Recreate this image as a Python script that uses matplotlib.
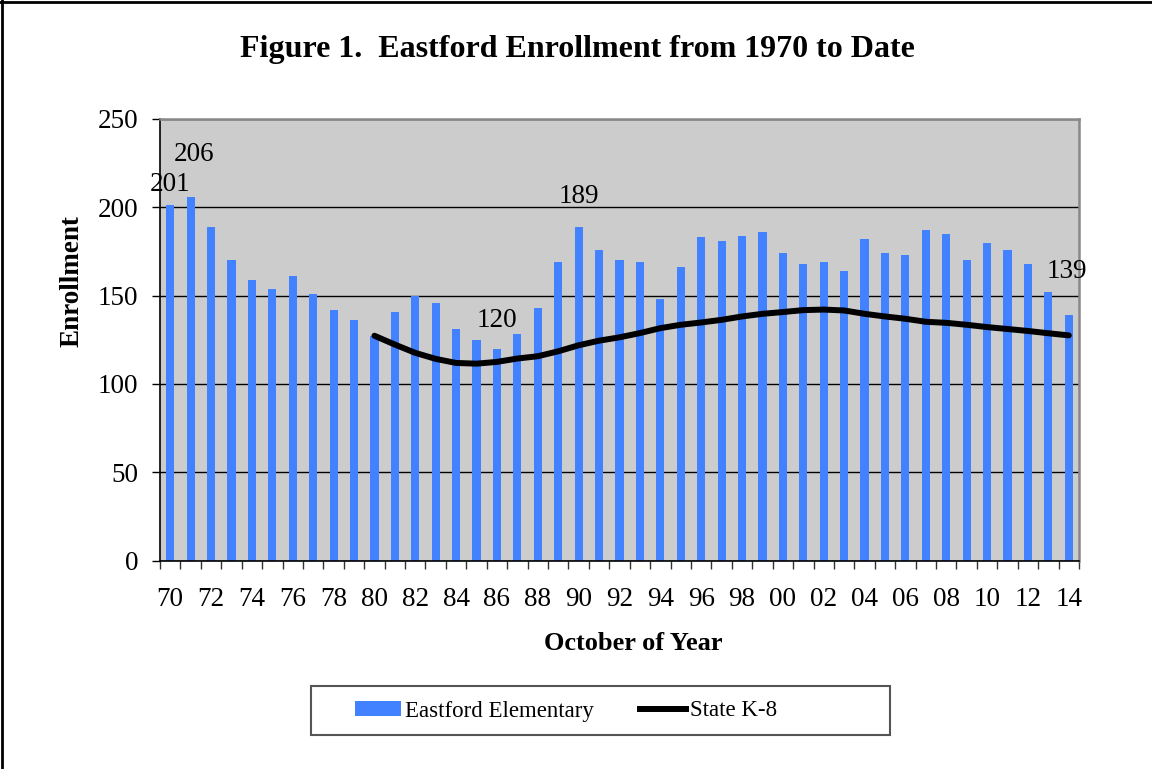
import numpy as np
import matplotlib.pyplot as plt
from matplotlib.patches import Rectangle, Patch
from matplotlib.lines import Line2D

plt.rcParams["font.family"] = ["Liberation Serif", "DejaVu Serif"]

# October enrollment, 1970..2014
years = np.arange(1970, 2015)
eastford = [201, 206, 189, 170, 159, 154, 161, 151, 142, 136,
            127, 141, 150, 146, 131, 125, 120, 128, 143, 169,
            189, 176, 170, 169, 148, 166, 183, 181, 184, 186,
            174, 168, 169, 164, 182, 174, 173, 187, 185, 170,
            180, 176, 168, 152, 139]

# state K-8 trend (scaled), 1980..2014
state_years = np.arange(1980, 2015)
state_k8 = [127.3, 122.3, 117.6, 114.2, 111.9, 111.5, 112.5, 114.4, 115.7, 118.5,
            121.9, 124.5, 126.4, 128.8, 131.6, 133.5, 134.8, 136.3, 138.2, 139.7,
            140.7, 141.8, 142.1, 141.6, 139.7, 138.2, 136.9, 135.2, 134.6, 133.5,
            132.2, 131.1, 130.0, 128.7, 127.5]

labelled_years = [1970, 1971, 1986, 1990, 2014]
label_lift = [21, 42, 28, 30, 44]   # pixels above bar top
label_shift = [0, 3, 0, 0, -2]

blue = "#4281FF"

fig = plt.figure(figsize=(11.52, 7.69), dpi=100)
ax = fig.add_axes([160 / 1152, 1 - 560.7 / 769, 919 / 1152, 441.8 / 769])
ax.set_facecolor("#CCCCCC")

x = np.arange(len(years))
ax.bar(x, eastford, width=0.4, color=blue, zorder=2)
ax.plot(state_years - years[0], state_k8, color="black", lw=4.3,
        solid_capstyle="round", zorder=3)

px = 72 / 100
for yr, lift, sh in zip(labelled_years, label_lift, label_shift):
    i = int(yr - years[0])
    ax.annotate(str(eastford[i]), (x[i], eastford[i]),
                xytext=(sh * px, lift * px), textcoords="offset points",
                ha="center", va="center", fontsize=19.5, zorder=4)

ax.set_xlim(-0.5, len(years) - 0.5)
ax.set_ylim(0, 250)
ax.set_yticks(np.arange(0, 251, 50))
ax.yaxis.grid(True, color="black", lw=1, zorder=1)
ax.set_axisbelow(True)

ax.set_xticks(x[::2])
ax.set_xticklabels([f"{y % 100:02d}" for y in years[::2]])
ax.set_xticks(np.arange(-0.5, len(years)), minor=True)
ax.tick_params(axis="x", which="major", length=0, pad=19, labelsize=19.5)
ax.tick_params(axis="x", which="minor", length=5.5, width=1, direction="out", color="#333333")
ax.tick_params(axis="y", length=5.5, width=1, direction="out", pad=10, labelsize=19.5)

for s in ["top", "right"]:
    ax.spines[s].set_color("#888888")
    ax.spines[s].set_linewidth(1.8)
for s in ["left", "bottom"]:
    ax.spines[s].set_color("black")
    ax.spines[s].set_linewidth(1.2)

fig.text(577 / 1152, 1 - 49 / 769, "Figure 1.  Eastford Enrollment from 1970 to Date",
         ha="center", va="center", fontsize=23, fontweight="bold")
fig.text(633 / 1152, 1 - 644 / 769, "October of Year",
         ha="center", va="center", fontsize=19, fontweight="bold")
fig.text(72 / 1152, 1 - 281 / 769, "Enrollment", rotation=90,
         ha="center", va="center", fontsize=19.5, fontweight="bold")

# legend frame
fig.add_artist(Rectangle((311 / 1152, 1 - 735 / 769), 579 / 1152, 49 / 769,
                         transform=fig.transFigure, fill=False,
                         edgecolor="#555555", lw=1.5))
handles = [Patch(facecolor=blue, edgecolor="none"),
           Line2D([], [], color="black", lw=4.3)]
fig.legend(handles, ["Eastford Elementary", "State K-8"], loc="center",
           bbox_to_anchor=(566 / 1152, 1 - 711 / 769), ncol=2, frameon=False,
           fontsize=16.5, handlelength=2.0, handleheight=0.65,
           handletextpad=0.2, columnspacing=2.0)

# outer border (top and left edges are visible in the frame)
fig.add_artist(Line2D([0, 1], [1 - 1.5 / 769] * 2, transform=fig.transFigure,
                      color="black", lw=2))
fig.add_artist(Line2D([1.5 / 1152] * 2, [0, 1], transform=fig.transFigure,
                      color="black", lw=2))

fig.savefig("out.png", dpi=100)
